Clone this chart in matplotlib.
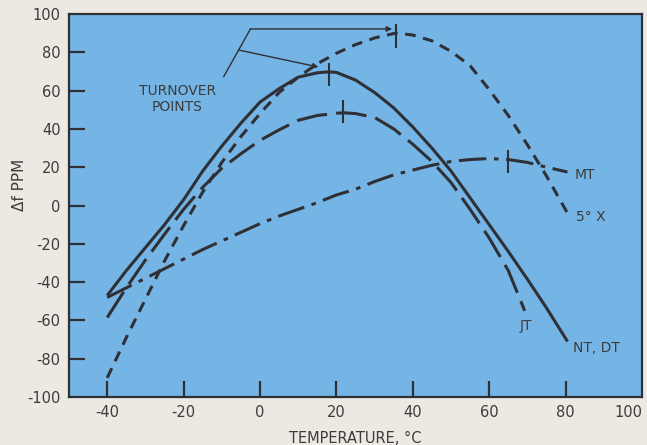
import matplotlib
matplotlib.use("Agg")
import matplotlib.pyplot as plt

# ---- data ----
temps_nt = [-40, -35, -30, -25, -20, -15, -10, -5, 0, 5, 10, 15, 18, 20, 25, 30, 35, 40, 45, 50, 55, 60, 65, 70, 75, 80.5]
ppm_nt = [-47, -34, -22, -10, 3, 18, 31, 43, 54, 61, 67, 69.3, 69.8, 69.5, 65.5, 59, 51, 41, 30, 18, 4, -10, -24, -38.5, -53.5, -71]

temps_jt = [-40, -35, -30, -25, -20, -15, -10, -5, 0, 5, 10, 15, 20, 22, 25, 30, 35, 40, 45, 50, 55, 60, 65, 69.3]
ppm_jt = [-58.5, -43, -28.5, -15, -2, 9.5, 19.5, 27, 34, 39.5, 44.5, 47, 48.2, 48.4, 48, 46, 40, 32, 23, 12, -2, -17, -34, -55]

temps_mt = [-40, -35, -30, -25, -20, -15, -10, -5, 0, 5, 10, 15, 20, 25, 30, 35, 40, 45, 50, 55, 60, 65, 70, 75, 80.5]
ppm_mt = [-48, -43, -38, -33, -28, -23, -18.5, -14, -9.5, -5.5, -2, 1.5, 5.5, 8.5, 12.5, 16, 18.5, 21, 23, 24, 24.5, 24, 22.5, 20, 17.5]

temps_5x = [-40, -35, -30, -25, -20, -15, -10, -5, 0, 5, 10, 15, 20, 25, 30, 35, 36, 40, 45, 50, 55, 60, 65, 70, 75, 80.5]
ppm_5x = [-90, -69, -49, -29, -10.5, 7, 22.5, 36, 48, 59, 67, 74, 79.5, 84, 87.5, 89.8, 90, 89, 86, 80.5, 73, 60.5, 47, 31.7, 15.4, -4]

# turnover ticks (x, y)
turn_x = [18.1, 21.8, 64.8, 35.6]
turn_y = [68.5, 49.3, 23, 88.5]

xticks = [-40, -20, 0, 20, 40, 60, 80, 100]
yticks = [-100, -80, -60, -40, -20, 0, 20, 40, 60, 80, 100]

ink = "#2f3035"
txt = "#3c3c3c"
blue = "#75b5e6"
paper = "#ebe9e2"

fig = plt.figure(figsize=(6.47, 4.45), dpi=100, facecolor=paper)
ax = fig.add_axes([69 / 647, 1 - 397 / 445, (642 - 69) / 647, (397 - 14) / 445])
ax.set_facecolor(blue)

lw = 2.2
ax.plot(temps_nt, ppm_nt, color=ink, lw=lw, solid_capstyle="butt", solid_joinstyle="round")
ax.plot(temps_jt, ppm_jt, color=ink, lw=lw, dashes=(10, 3), dash_capstyle="butt")
ax.plot(temps_mt, ppm_mt, color=ink, lw=lw, dashes=(9, 2.5, 1.5, 2.5), dash_capstyle="butt")
ax.plot(temps_5x, ppm_5x, color=ink, lw=lw, dashes=(3.5, 2.5), dash_capstyle="butt")

for tx, ty in zip(turn_x, turn_y):
    ax.plot([tx, tx], [ty - 5.5, ty + 5.5], color=ink, lw=1.5)

ax.set_xlim(-50, 100)
ax.set_ylim(-100, 100)
ax.set_xticks(xticks)
ax.set_yticks(yticks)
ax.set_xticklabels([str(v) for v in xticks])
ax.set_yticklabels([str(v) for v in yticks])
ax.tick_params(direction="in", length=11.5, width=1.6, color=ink, labelcolor=txt,
               labelsize=10.5, pad=6)
for s in ax.spines.values():
    s.set_linewidth(1.6)
    s.set_color(ink)
for t in ax.xaxis.get_major_ticks():
    if t.get_loc() == 100:
        t.tick1line.set_visible(False)
        t.label1.set_horizontalalignment("right")
for t in ax.yaxis.get_major_ticks():
    if t.get_loc() in (100, -100):
        t.tick1line.set_visible(False)

ax.set_xlabel("TEMPERATURE, °C", fontsize=10.5, color=txt, labelpad=8)
fig.text(20 / 647, 1 - 185 / 445, "Δf PPM", rotation=90, fontsize=11, color=txt,
         ha="center", va="center")

# curve labels
ax.text(82.3, 16, "MT", fontsize=10, color=txt, ha="left", va="center")
ax.text(82.6, -6, "5° X", fontsize=10, color=txt, ha="left", va="center")
ax.text(69.5, -63, "JT", fontsize=10, color=txt, ha="center", va="center")
ax.text(82, -74.5, "NT, DT", fontsize=10, color=txt, ha="left", va="center")
ax.text(-21.7, 55.6, "TURNOVER\nPOINTS", fontsize=10, color=txt, ha="center", va="center",
        linespacing=1.25)

# leader lines
ax.plot([-9.5, -2.5], [67.3, 92.2], color=ink, lw=1.0)
ax.annotate("", xy=(34.6, 92.2), xytext=(-2.5, 92.2),
            arrowprops=dict(arrowstyle="-|>", color=ink, lw=1.0, mutation_scale=8,
                            shrinkA=0, shrinkB=0))
ax.annotate("", xy=(15.3, 72.3), xytext=(-5.6, 81.2),
            arrowprops=dict(arrowstyle="-|>", color=ink, lw=1.0, mutation_scale=8,
                            shrinkA=0, shrinkB=0))

fig.savefig("out.png", dpi=100, facecolor=paper)
